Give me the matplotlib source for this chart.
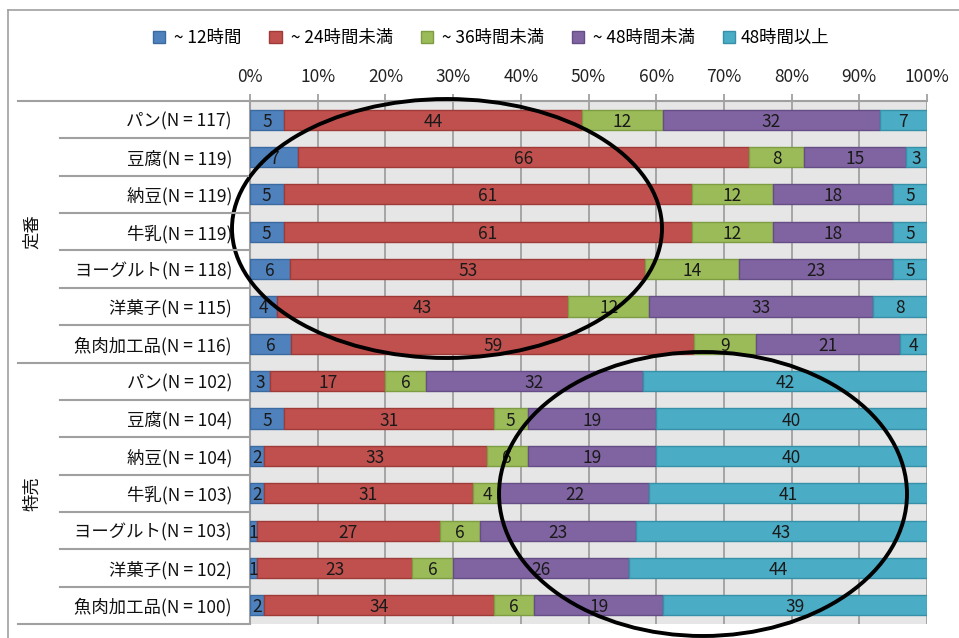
import matplotlib.pyplot as plt
import matplotlib.transforms as mtransforms
from matplotlib.patches import Ellipse, Patch
from matplotlib.lines import Line2D
import numpy as np

plt.rcParams['font.family'] = ['Noto Sans CJK JP', 'DejaVu Sans']

groups = ['定番', '特売']
items = ['パン', '豆腐', '納豆', '牛乳', 'ヨーグルト', '洋菓子', '魚肉加工品']
n_teiban = [117, 119, 119, 119, 118, 115, 116]
n_tokubai = [102, 104, 104, 103, 103, 102, 100]
series = [' ~ 12時間', ' ~ 24時間未満', ' ~ 36時間未満', ' ~ 48時間未満', '48時間以上']

under12 = [5, 7, 5, 5, 6, 4, 6, 3, 5, 2, 2, 1, 1, 2]
under24 = [44, 66, 61, 61, 53, 43, 59, 17, 31, 33, 31, 27, 23, 34]
under36 = [12, 8, 12, 12, 14, 12, 9, 6, 5, 6, 4, 6, 6, 6]
under48 = [32, 15, 18, 18, 23, 33, 21, 32, 19, 19, 22, 23, 26, 19]
over48 = [7, 3, 5, 5, 5, 8, 4, 42, 40, 40, 41, 43, 44, 39]

colors = ['#4F81BD', '#C0504D', '#9BBB59', '#8064A2', '#4BACC6']
edges = ['#3A6A9F', '#9E3A37', '#7E9C42', '#654D85', '#3590A8']
gray = '#A0A0A0'

labels = [f'{it}(N = {n})' for it, n in zip(items, n_teiban)] + \
         [f'{it}(N = {n})' for it, n in zip(items, n_tokubai)]

vals = np.array([under12, under24, under36, under48, over48], dtype=float)
widths = vals / vals.sum(axis=0) * 100
y = np.arange(len(labels))

W, H = 959, 638
fig = plt.figure(figsize=(W / 100, H / 100), dpi=100)
ax = fig.add_axes([250 / W, 1 - 624 / H, 677 / W, 523 / H])

left = np.zeros(len(labels))
for i in range(5):
    ax.barh(y, widths[i], left=left, height=0.54, color=colors[i],
            edgecolor=edges[i], linewidth=1, zorder=3)
    for j in range(len(labels)):
        ax.text(left[j] + widths[i][j] / 2, y[j], str(int(vals[i][j])),
                ha='center', va='center_baseline', fontsize=12.5,
                color='#1a1a1a', zorder=4)
    left += widths[i]

ax.set_xlim(0, 100)
ax.set_ylim(13.5, -0.5)
ax.set_facecolor('#E6E6E6')
ax.set_xticks(range(0, 101, 10))
ax.set_xticklabels([f'{t}%' for t in range(0, 101, 10)])
ax.xaxis.grid(True, color=gray, linewidth=1.3)
ax.set_axisbelow(True)
ax.xaxis.tick_top()
ax.tick_params(axis='x', length=5, width=1.3, color=gray, pad=6,
               labelsize=12.5, labelcolor='#222222')
ax.set_yticks(y)
ax.set_yticklabels(labels)
ax.tick_params(axis='y', length=0, pad=13, labelsize=12.5, labelcolor='#111111')
for s in ['bottom', 'right']:
    ax.spines[s].set_visible(False)
for s in ['top', 'left']:
    ax.spines[s].set_color(gray)
    ax.spines[s].set_linewidth(1.5)

# category axis separators
trans = mtransforms.blended_transform_factory(fig.transFigure, ax.transData)
for k in range(len(labels) + 1):
    yy = k - 0.5
    x0 = 18 / W if k in (0, 7, 14) else 60 / W
    fig.add_artist(Line2D([x0, 248 / W], [yy, yy], transform=trans,
                          color=gray, linewidth=1.5))
ax.text(32 / W, 3, groups[0], transform=trans, rotation=90,
        ha='center', va='center', fontsize=12.5, color='#111111')
ax.text(32 / W, 10, groups[1], transform=trans, rotation=90,
        ha='center', va='center', fontsize=12.5, color='#111111')

# outer frame
fig.add_artist(Line2D([8 / W, 8 / W], [0, 1 - 10 / H], transform=fig.transFigure,
                      color=gray, linewidth=1.2))
fig.add_artist(Line2D([8 / W, 1], [1 - 10 / H, 1 - 10 / H], transform=fig.transFigure,
                      color=gray, linewidth=1.2))

# circles drawn over the chart
fig.add_artist(Ellipse((447 / W, 1 - 228.5 / H), 430 / W, 259 / H,
                       transform=fig.transFigure, fill=False, ec='black', lw=2.8))
fig.add_artist(Ellipse((703 / W, 1 - 494 / H), 408 / W, 284 / H,
                       transform=fig.transFigure, fill=False, ec='black', lw=2.8))

handles = [Patch(facecolor=c, edgecolor=e, label=s) for c, e, s in zip(colors, edges, series)]
fig.legend(handles=handles, loc='center', bbox_to_anchor=(491 / W, 1 - 38 / H),
           ncol=5, frameon=False, fontsize=12.5, handlelength=0.7,
           handleheight=0.7, handletextpad=0.3, columnspacing=1.6)

fig.savefig('out.png', dpi=100)
